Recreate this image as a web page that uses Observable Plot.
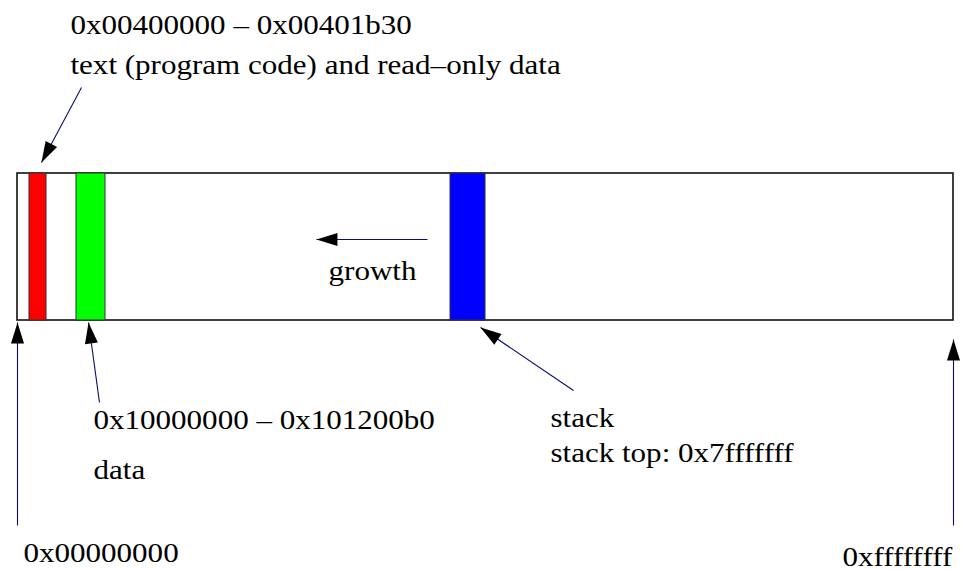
<!DOCTYPE html>
<html>
<head>
<meta charset="utf-8">
<script src="https://cdn.jsdelivr.net/npm/d3@7"></script>
<script src="https://cdn.jsdelivr.net/npm/@observablehq/plot@0.6"></script>
<style>
  html, body { margin: 0; padding: 0; background: #fff; }
  #chart svg { display: block; }
</style>
</head>
<body>
<div id="chart"></div>
<script>
// ---- Memory map (schematic position along the address bar, 0–100 %) ----
const barStart = 0;
const barEnd = 100;
const barTop = 173;      // layout rows
const barBottom = 320;

const regionNames  = ["text", "data", "stack"];
const regionStart  = [1.28, 6.30, 46.26];
const regionEnd    = [3.10, 9.40, 50.00];
const regionColors = ["#ff0000", "#00ff00", "#0000ff"];

// ---- Arrows (tail -> tip) ----
const arrowNames = ["text", "data", "stack", "growth", "low", "high"];
const arrowTailX = [6.84, 8.76, 59.40, 43.80, 0, 100];
const arrowTailY = [87, 402, 390, 239, 525, 525];
const arrowTipX  = [2.56, 7.59, 49.47, 31.94, 0, 100];
const arrowTipY  = [162, 322, 327, 239, 322, 339];

// ---- Labels ----
const labelTexts = [
  "0x00400000 \u2013 0x00401b30",
  "text (program code) and read\u2013only data",
  "growth",
  "0x10000000 \u2013 0x101200b0",
  "data",
  "stack",
  "stack top: 0x7fffffff",
  "0x00000000",
  "0xffffffff"
];
const labelX = [5.66, 5.66, 33.23, 8.12, 8.12, 56.94, 56.94, 0.64, 88.14];
const labelY = [33, 73, 279, 428, 478, 426, 461, 561, 565];

// ---- Build tables ----
const xScaleOpts = {domain: [0, 100], range: [17, 953]};
const yScaleOpts = {domain: [0, 570], range: [0, 570]};
const xs = Plot.scale({x: xScaleOpts});
const ys = Plot.scale({y: yScaleOpts});

const bar = [{x1: barStart, x2: barEnd, y1: barTop, y2: barBottom}];
const regions = regionNames.map((name, i) => ({
  name, x1: regionStart[i], x2: regionEnd[i], y1: barTop, y2: barBottom, color: regionColors[i]
}));
const arrows = arrowNames.map((name, i) => {
  const dx = xs.apply(arrowTipX[i]) - xs.apply(arrowTailX[i]);
  const dy = ys.apply(arrowTipY[i]) - ys.apply(arrowTailY[i]);
  return {
    name,
    x1: arrowTailX[i], y1: arrowTailY[i],
    x2: arrowTipX[i], y2: arrowTipY[i],
    angle: Math.atan2(dx, -dy) * 180 / Math.PI
  };
});
const labels = labelTexts.map((text, i) => ({text, x: labelX[i], y: labelY[i]}));

// filled arrowhead with its tip at the origin, pointing up
const headSymbol = {
  draw(context) {
    context.moveTo(0, 0);
    context.lineTo(-6.5, 21);
    context.lineTo(6.5, 21);
    context.closePath();
  }
};

const plot = Plot.plot({
  width: 961,
  height: 570,
  margin: 0,
  x: {...xScaleOpts, axis: null},
  y: {...yScaleOpts, axis: null},
  style: {background: "#fff"},
  marks: [
    Plot.rect(bar, {x1: "x1", x2: "x2", y1: "y1", y2: "y2", fill: "#fff", stroke: "#111", strokeWidth: 1.6}),
    Plot.rect(regions, {x1: "x1", x2: "x2", y1: "y1", y2: "y2", fill: "color", stroke: "#333", strokeWidth: 1}),
    Plot.link(arrows, {x1: "x1", y1: "y1", x2: "x2", y2: "y2", stroke: "#0b0b6e", strokeWidth: 1.1}),
    Plot.dot(arrows, {x: "x2", y: "y2", rotate: "angle", symbol: headSymbol, fill: "#000", stroke: "none"}),
    Plot.text(labels, {
      x: "x", y: "y", text: "text",
      textAnchor: "start", lineAnchor: "bottom",
      fontFamily: "Liberation Serif", fontSize: 27, fill: "#000"
    })
  ]
});

// Reference glyphs are horizontally stretched: widen text around its anchor
plot.querySelectorAll('g[aria-label="text"] text').forEach(t => {
  const tr = t.getAttribute("transform") || "";
  t.setAttribute("transform", tr + " scale(1.15,1)");
});

document.getElementById("chart").appendChild(plot);
</script>
</body>
</html>
